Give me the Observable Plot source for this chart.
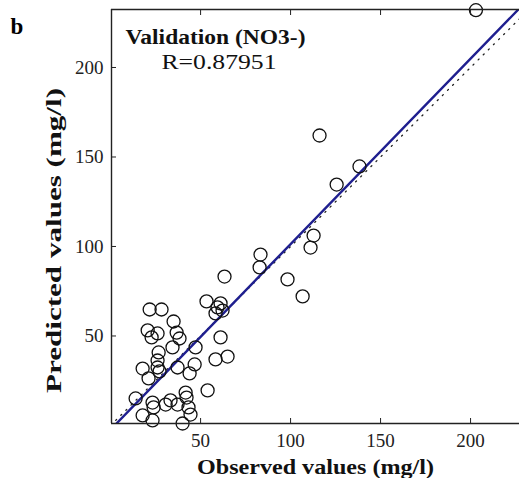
<!DOCTYPE html>
<html>
<head>
<meta charset="utf-8">
<script src="https://cdn.jsdelivr.net/npm/d3@7"></script>
<script src="https://cdn.jsdelivr.net/npm/@observablehq/plot@0.6"></script>
<style>
  html, body { margin: 0; padding: 0; background: #fff; }
  #chart { position: relative; width: 519px; height: 478px; }
</style>
</head>
<body>
<div id="chart"></div>
<script>
// Observed (targets) and predicted (outputs), NO3- validation set
const observed = [203,116.1,138.3,125.6,112.8,111.1,98.3,106.7,83.3,82.8,63.3,53.3,59.4,61.1,58.3,62.2,21.7,28.3,35.0,20.6,26.1,22.8,36.7,38.3,34.4,47.2,61.1,26.7,26.1,17.8,26.1,27.2,37.2,21.1,46.7,43.9,58.3,65.0,53.9,13.9,23.3,23.9,33.3,37.2,41.7,42.2,43.3,17.8,23.3,44.4,40.0,30.6];
const predicted = [232,162.0,144.7,134.6,106.1,99.4,81.6,72.1,95.5,88.3,83.2,69.3,66.0,68.2,62.6,64.2,64.8,64.8,58.1,53.1,51.4,49.2,51.9,48.6,43.6,43.6,49.2,40.8,36.3,31.8,32.4,30.2,32.4,26.3,34.1,29.1,36.9,38.5,19.6,15.1,12.8,10.1,14.0,11.7,18.4,15.6,10.1,5.6,2.8,6.1,1.1,11.7];
const fitSlope = 1.036;
const fitIntercept = -2.3;
const xTicks = [50, 100, 150, 200];
const yTicks = [50, 100, 150, 200];
const xDomain = [0.5, 227.2];
const yDomain = [1.1, 232.4];
const panelLetter = "b";
const titleText = "Validation (NO3-)";
const rText = "R=0.87951";
const xLabel = "Observed values (mg/l)";
const yLabel = "Predicted values (mg/l)";

const points = observed.map((o, i) => ({x: o, y: predicted[i]}));
const fitLine = xDomain.map(x => ({x, y: fitSlope * x + fitIntercept}));
const identity = [{x: 0, y: 0}, {x: 240, y: 240}];

const serif = "'Liberation Serif', 'Times New Roman', serif";

const plot = Plot.plot({
  width: 519,
  height: 478,
  marginLeft: 111,
  marginRight: 0,
  marginTop: 9,
  marginBottom: 55,
  style: {fontFamily: serif, background: "#fff", color: "#222"},
  x: {domain: xDomain, label: null},
  y: {domain: yDomain, label: null},
  marks: [
    Plot.line(identity, {x: "x", y: "y", stroke: "#222", strokeWidth: 1.3, strokeDasharray: "1.2,6", clip: true}),
    Plot.line(fitLine, {x: "x", y: "y", stroke: "#1f1f8f", strokeWidth: 2.4, clip: true}),
    Plot.dot(points, {x: "x", y: "y", r: 6.5, stroke: "#111", strokeWidth: 1.3, fill: "none"}),
    Plot.ruleX([xDomain[0]], {stroke: "#222", strokeWidth: 1.4}),
    Plot.ruleY([yDomain[0], yDomain[1]], {stroke: "#222", strokeWidth: 1.4}),
    Plot.axisX({ticks: xTicks, tickSize: 0, tickPadding: 10, fontSize: 19, tickFormat: d => String(d), label: null}),
    Plot.axisX({ticks: xTicks, tickSize: -5, tickFormat: () => "", label: null}),
    Plot.axisX({ticks: xTicks, anchor: "top", tickSize: -5, tickFormat: () => "", label: null}),
    Plot.axisY({ticks: yTicks, tickSize: 0, tickPadding: 8, fontSize: 19, tickFormat: d => String(d), label: null}),
    Plot.axisY({ticks: yTicks, tickSize: -5, tickFormat: () => "", label: null}),
    Plot.text([titleText], {frameAnchor: "top-left", dx: 14, dy: 27.6, textAnchor: "start", lineAnchor: "middle", fontSize: 20, fontWeight: "bold", fill: "#111", className: "title1"}),
    Plot.text([rText], {frameAnchor: "top-left", dx: 50, dy: 52.6, textAnchor: "start", lineAnchor: "middle", fontSize: 20, fill: "#111", className: "title2"}),
    Plot.text([xLabel], {frameAnchor: "bottom", dy: 43.5, textAnchor: "middle", lineAnchor: "middle", fontSize: 21, fontWeight: "bold", fill: "#111", className: "xlab"}),
    Plot.text([yLabel], {frameAnchor: "left", dx: -57, dy: 24, rotate: -90, textAnchor: "middle", lineAnchor: "middle", fontSize: 20, fontWeight: "bold", fill: "#111", className: "ylab"}),
    Plot.text([panelLetter], {frameAnchor: "top-left", dx: -101, dy: 17.6, textAnchor: "start", lineAnchor: "middle", fontSize: 23, fontWeight: "bold", fill: "#000"})
  ]
});
document.getElementById("chart").appendChild(plot);

function stretch(cls, len) {
  plot.querySelectorAll("g." + cls + " text, ." + cls + " text").forEach(t => {
    t.setAttribute("textLength", len);
    t.setAttribute("lengthAdjust", "spacingAndGlyphs");
  });
}
stretch("title1", 180);
stretch("title2", 115);
stretch("xlab", 237);
stretch("ylab", 305);
</script>
</body>
</html>
